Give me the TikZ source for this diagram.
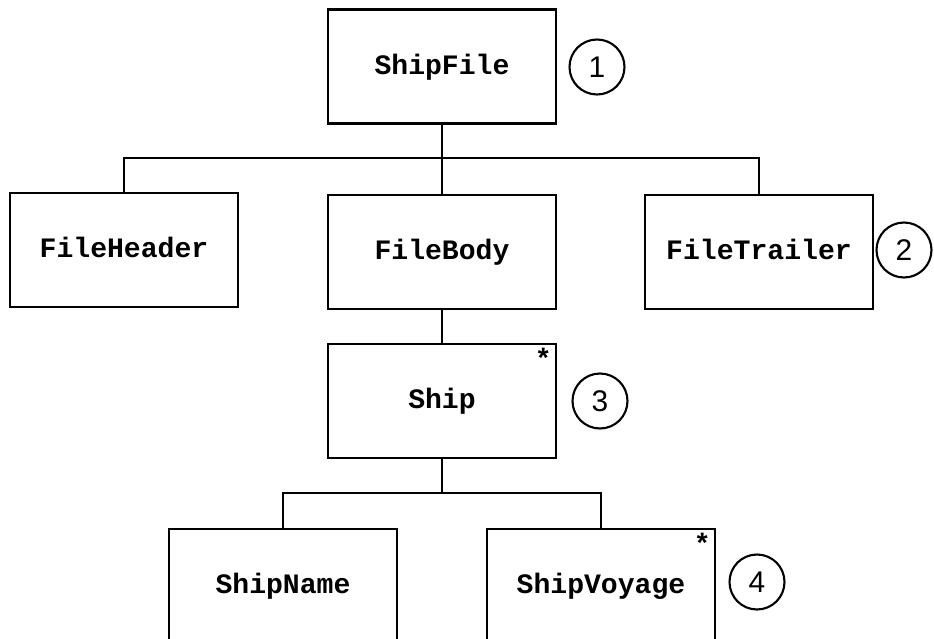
\documentclass[tikz,border=0pt]{standalone}
\usepackage{fontspec}
\setmainfont{Liberation Sans}
\setmonofont{Liberation Mono}
\usepackage{tikz}
\usetikzlibrary{positioning, calc}
\tikzset{
  rec box/.style={
    draw=black,
    line width=1.4pt,
    fill=white,
    minimum width=4.56cm,
    minimum height=2.28cm,
    font=\fontsize{16}{18}\selectfont\ttfamily\bfseries,
    text height=1em,
    text depth=0.1em,
    inner sep=0pt
  },
  num circle/.style={
    circle,
    draw=black,
    line width=1.2pt,
    minimum size=1.1cm,
    inner sep=0pt,
    font=\fontsize{17}{19}\selectfont
  },
  iter mark/.style={
    font=\fontsize{16}{16}\selectfont\ttfamily\bfseries,
    inner sep=0pt
  },
  tree line/.style={line width=1.4pt, line cap=rect}
}
\begin{document}
\begin{tikzpicture}[x=0.02cm, y=-0.02cm]
  \useasboundingbox (0,0) rectangle (934,639);

  % Top level
  \node[rec box] (shipfile) at (442,66.5) {ShipFile};
  \node[num circle] (n1) at (597,67) {1};

  % File parts
  \node[rec box] (fileheader) at (124,250) {FileHeader};
  \node[rec box] (filebody) at (442,252) {FileBody};
  \node[rec box] (filetrailer) at (759,252) {FileTrailer};
  \node[num circle] (n2) at (904,250) {2};

  % Ship (iterated)
  \node[rec box] (ship) at (442,401) {Ship};
  \node[iter mark, anchor=north east] (shipmark) at ($(ship.north east)+(-5,5)$) {*};
  \node[num circle] (n3) at (600,401) {3};

  % Ship parts
  \node[rec box] (shipname) at (283,586) {ShipName};
  \node[rec box] (shipvoyage) at (601,586) {ShipVoyage};
  \node[iter mark, anchor=north east] (voyagemark) at ($(shipvoyage.north east)+(-5,5)$) {*};
  \node[num circle] (n4) at (757,582) {4};

  % Connectors
  \coordinate (bar1) at (442,158);
  \coordinate (bar2) at (442,493);
  \draw[tree line] (shipfile.south) -- (filebody.north);
  \draw[tree line] (fileheader.north) |- (bar1) -| (filetrailer.north);
  \draw[tree line] (filebody.south) -- (ship.north);
  \draw[tree line] (ship.south) -- (bar2);
  \draw[tree line] (shipname.north) |- (bar2) -| (shipvoyage.north);
\end{tikzpicture}
\end{document}
